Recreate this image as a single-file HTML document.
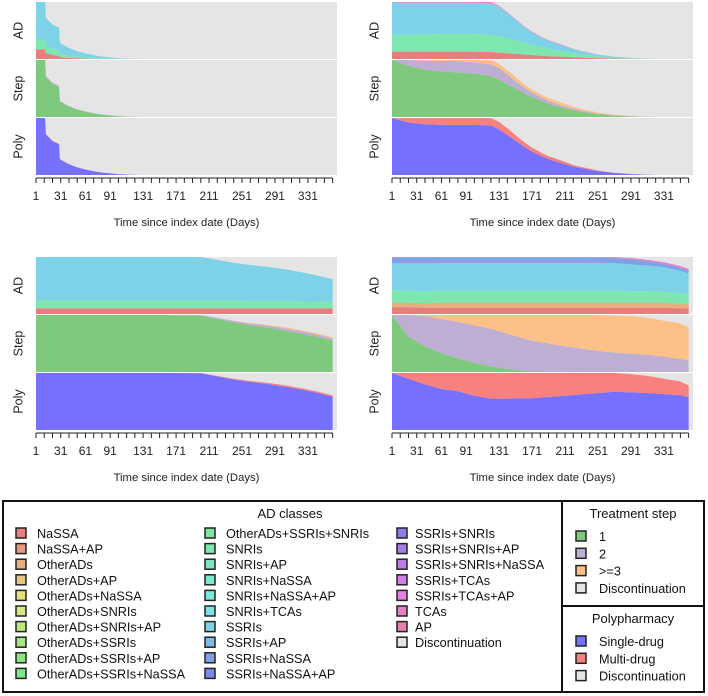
<!DOCTYPE html>
<html><head><meta charset="utf-8"><style>
html,body{margin:0;padding:0;background:#fff}
svg{display:block;font-family:"Liberation Sans",Arial,sans-serif}
</style></head><body>
<svg id="c" width="708" height="696" viewBox="0 0 708 696" xmlns="http://www.w3.org/2000/svg"></svg>
<script>
const classNames=["NaSSA","NaSSA+AP","OtherADs","OtherADs+AP","OtherADs+NaSSA","OtherADs+SNRIs","OtherADs+SNRIs+AP","OtherADs+SSRIs","OtherADs+SSRIs+AP","OtherADs+SSRIs+NaSSA","OtherADs+SSRIs+SNRIs","SNRIs","SNRIs+AP","SNRIs+NaSSA","SNRIs+NaSSA+AP","SNRIs+TCAs","SSRIs","SSRIs+AP","SSRIs+NaSSA","SSRIs+NaSSA+AP","SSRIs+SNRIs","SSRIs+SNRIs+AP","SSRIs+SNRIs+NaSSA","SSRIs+TCAs","SSRIs+TCAs+AP","TCAs","AP"];
const stepNames=["1","2",">=3"];
const polyNames=["Single-drug","Multi-drug"];
const xTickLabels=[1,31,61,91,131,171,211,251,291,331];

// Panel A (top-left)
const daysA=[1,12,13,20,21,29,30,40,50,60,70,80,90,100,110,120,130,361];
const adA_NaSSA=[.17,.17,.1,.08,.07,.06,.03,.02,.012,.008,.005,.003,.002,.001,0,0,0,0];
const adA_SNRIs=[.17,.17,.13,.11,.11,.1,.06,.04,.03,.02,.015,.01,.007,.004,.002,0,0,0];
const adA_SSRIs=[.66,.66,.49,.43,.42,.39,.19,.14,.098,.072,.05,.032,.021,.01,.005,.002,0,0];
const stepA_1=[1,1,.7,.6,.58,.53,.27,.19,.135,.097,.068,.044,.03,.015,.007,.002,0,0];
const stepA_2=[0,0,.02,.02,.02,.02,.01,.01,.005,.003,.002,.001,0,0,0,0,0,0];
const stepA_3=[0,0,0,0,0,0,0,0,0,0,0,0,0,0,0,0,0,0];
const polyA_1=[1,1,.71,.61,.59,.54,.275,.195,.138,.099,.069,.045,.03,.015,.007,.002,0,0];
const polyA_2=[0,0,.01,.01,.01,.01,.005,.005,.002,.001,.001,0,0,0,0,0,0,0];

// Panel B (top-right)
const daysB=[1,21,41,61,81,101,121,131,141,151,161,171,181,191,201,211,221,231,241,251,261,271,281,291,301,311,321,361];
const adB_NaSSA=[.13,.13,.13,.13,.13,.13,.12,.11,.1,.09,.08,.07,.06,.05,.045,.04,.03,.025,.02,.015,.01,.008,.005,.003,.002,.001,0,0];
const adB_SNRIs=[.29,.3,.3,.31,.31,.31,.3,.29,.27,.24,.21,.18,.16,.13,.11,.09,.075,.06,.045,.035,.025,.017,.013,.009,.005,.002,0,0];
const adB_SSRIs=[.57,.56,.56,.55,.55,.55,.56,.51,.44,.36,.28,.22,.17,.14,.115,.09,.07,.05,.04,.028,.022,.013,.01,.007,.003,.002,0,0];
const adB_TCAs=[.01,.01,.01,.01,.01,.01,.02,.02,.01,.01,.01,.01,.01,.01,.01,.01,.005,.005,.005,.002,.003,.002,.002,.001,0,0,0,0];
const stepB_1=[1,.9,.83,.8,.78,.76,.72,.66,.58,.5,.42,.35,.29,.23,.19,.15,.12,.09,.07,.05,.035,.025,.018,.012,.006,.002,0,0];
const stepB_2=[0,.1,.16,.19,.2,.2,.2,.2,.17,.13,.1,.08,.06,.05,.04,.03,.025,.02,.015,.01,.008,.005,.004,.002,.002,.001,0,0];
const stepB_3=[0,0,.01,.01,.02,.04,.08,.07,.07,.07,.06,.05,.05,.05,.05,.05,.035,.03,.025,.02,.017,.01,.008,.006,.002,.002,0,0];
const polyB_1=[1,.92,.89,.88,.88,.88,.87,.8,.7,.6,.5,.41,.34,.28,.23,.19,.15,.12,.09,.07,.05,.035,.026,.017,.008,.004,0,0];
const polyB_2=[0,.08,.11,.12,.12,.12,.13,.13,.12,.1,.08,.07,.06,.05,.05,.04,.025,.02,.02,.01,.01,.005,.004,.003,.002,.001,0,0];

// Panel C (bottom-left)
const daysC=[1,41,81,121,161,201,221,241,261,281,301,321,341,361];
const adC_NaSSA=[.1,.1,.1,.1,.1,.1,.1,.1,.1,.1,.1,.1,.1,.1];
const adC_SNRIs=[.14,.14,.14,.14,.14,.14,.14,.14,.13,.13,.13,.12,.12,.11];
const adC_SSRIs=[.76,.76,.76,.76,.76,.76,.71,.66,.63,.6,.56,.52,.46,.4];
const stepC_1=[1,1,1,1,1,.99,.93,.87,.82,.78,.73,.68,.62,.55];
const stepC_2=[0,0,0,0,0,.01,.02,.025,.03,.035,.04,.04,.04,.04];
const stepC_3=[0,0,0,0,0,0,0,.005,.01,.015,.02,.02,.02,.02];
const polyC_1=[1,1,1,1,1,.995,.94,.885,.845,.81,.765,.715,.655,.585];
const polyC_2=[0,0,0,0,0,.005,.01,.015,.015,.02,.025,.025,.025,.025];

// Panel D (bottom-right)
const daysD=[1,21,41,61,81,101,121,141,171,211,251,271,291,311,331,351,361];
const adD_NaSSA=[.12,.12,.11,.11,.11,.11,.11,.11,.11,.11,.11,.11,.11,.11,.11,.1,.1];
const adD_Other=[.08,.08,.08,.09,.09,.09,.09,.09,.09,.09,.09,.09,.09,.09,.09,.08,.08];
const adD_SNRIs=[.22,.21,.21,.21,.21,.21,.21,.21,.21,.21,.21,.21,.2,.2,.19,.18,.17];
const adD_SSRIs=[.47,.48,.49,.49,.49,.49,.49,.49,.49,.49,.49,.48,.47,.45,.43,.4,.36];
const adD_SSRIsNaSSA=[.1,.1,.1,.09,.09,.09,.09,.09,.09,.09,.09,.09,.09,.08,.06,.05,.05];
const adD_TCAs=[.01,.01,.01,.01,.01,.01,.01,.01,.01,.01,.01,.02,.02,.02,.03,.03,.03];
const stepD_1=[1,.62,.45,.33,.24,.16,.1,.05,.01,0,0,0,0,0,0,0,0];
const stepD_2=[0,.38,.53,.6,.64,.66,.66,.62,.54,.45,.37,.34,.32,.3,.27,.23,.2];
const stepD_3=[0,0,.02,.07,.12,.18,.24,.33,.45,.55,.63,.65,.66,.65,.63,.62,.58];
const polyD_1=[1,.9,.8,.72,.68,.6,.55,.55,.56,.6,.65,.67,.66,.65,.63,.61,.58];
const polyD_2=[0,.1,.2,.28,.32,.4,.45,.45,.44,.4,.35,.33,.32,.3,.27,.24,.2];

const svg=document.getElementById('c');
const NS="http://www.w3.org/2000/svg";
function mk(tag,attrs,parent){const e=document.createElementNS(NS,tag);for(const k in attrs)e.setAttribute(k,attrs[k]);(parent||svg).appendChild(e);return e;}
function classColor(i){
  let h;
  if(i<=10)h=i*14; else if(i<=16)h=140+(i-10)*(52/6); else h=192+(i-16)*(138/10);
  return `hsl(${h.toFixed(1)},68%,70%)`;
}
const stepColors=["#7fc97f","#beaed4","#fdc086"];
const polyColors=["#7570ff","#f8807f"];

function drawPanel(name,px,py,days,strips){
  const pw=301, sh=57, gap=1;
  const x=d=>px+(d-1)*0.824;
  const g=mk('g',{});
  
  
  strips.forEach((st,si)=>{
    const y0=py+si*(sh+gap);
    const bg=mk('rect',{x:px,y:y0,width:pw,height:sh,fill:'#e5e5e5'},g);
    
    
    const y=v=>y0+sh-v*sh;
    let cum=days.map(()=>0);
    st.series.forEach(s=>{
      const lo=cum.slice();const hi=cum.map((c,k)=>c+s.values[k]);
      let pts=days.map((d,k)=>x(d).toFixed(2)+','+y(hi[k]).toFixed(2));
      for(let k=days.length-1;k>=0;k--)pts.push(x(days[k]).toFixed(2)+','+y(lo[k]).toFixed(2));
      const p=mk('polygon',{points:pts.join(' '),fill:s.color},g);
      
      
      cum=hi;
    });
    const t=mk('text',{x:0,y:0,transform:`translate(${px-17},${y0+sh/2}) rotate(-90)`,'text-anchor':'middle','font-size':12.5,fill:'#222','dominant-baseline':'middle'},g);
    t.textContent=st.label;
    
    
  });
  const ay=py+3*sh+2*gap+3;
  const ax=mk('line',{x1:x(1),x2:x(361),y1:ay,y2:ay,stroke:'#222','stroke-width':1},g);
  
  
  for(let d=1;d<=361;d+=10){
    const tk=mk('line',{x1:x(d),x2:x(d),y1:ay,y2:ay+5,stroke:'#222','stroke-width':1},g);
    
    
  }
  xTickLabels.forEach(d=>{
    const t=mk('text',{x:x(d),y:ay+22,'text-anchor':'middle','font-size':12,fill:'#222'},g);
    t.textContent=d;
    
    
  });
  const tt=mk('text',{x:px+pw/2,y:ay+48,'text-anchor':'middle','font-size':11.3,fill:'#222'},g);
  tt.textContent='Time since index date (Days)';
  
  
}
const C=n=>classColor(classNames.indexOf(n));
function stepStrip(a,b,c){return {label:'Step',series:[{name:'step-1',values:a,color:stepColors[0]},{name:'step-2',values:b,color:stepColors[1]},{name:'step-3',values:c,color:stepColors[2]}]};}
function polyStrip(a,b){return {label:'Poly',series:[{name:'single-drug',values:a,color:polyColors[0]},{name:'multi-drug',values:b,color:polyColors[1]}]};}

drawPanel('panel-top-left',36,2,daysA,[
 {label:'AD',series:[{name:'NaSSA',values:adA_NaSSA,color:C('NaSSA')},{name:'SNRIs',values:adA_SNRIs,color:C('SNRIs')},{name:'SSRIs',values:adA_SSRIs,color:C('SSRIs')}]},
 stepStrip(stepA_1,stepA_2,stepA_3),polyStrip(polyA_1,polyA_2)]);
drawPanel('panel-top-right',392,2,daysB,[
 {label:'AD',series:[{name:'NaSSA',values:adB_NaSSA,color:C('NaSSA')},{name:'SNRIs',values:adB_SNRIs,color:C('SNRIs')},{name:'SSRIs',values:adB_SSRIs,color:C('SSRIs')},{name:'TCAs',values:adB_TCAs,color:C('TCAs')}]},
 stepStrip(stepB_1,stepB_2,stepB_3),polyStrip(polyB_1,polyB_2)]);
drawPanel('panel-bottom-left',36,257,daysC,[
 {label:'AD',series:[{name:'NaSSA',values:adC_NaSSA,color:C('NaSSA')},{name:'SNRIs',values:adC_SNRIs,color:C('SNRIs')},{name:'SSRIs',values:adC_SSRIs,color:C('SSRIs')}]},
 stepStrip(stepC_1,stepC_2,stepC_3),polyStrip(polyC_1,polyC_2)]);
drawPanel('panel-bottom-right',392,257,daysD,[
 {label:'AD',series:[{name:'NaSSA',values:adD_NaSSA,color:C('NaSSA')},{name:'OtherADs',values:adD_Other,color:C('OtherADs')},{name:'SNRIs',values:adD_SNRIs,color:C('SNRIs')},{name:'SSRIs',values:adD_SSRIs,color:C('SSRIs')},{name:'SSRIs+NaSSA',values:adD_SSRIsNaSSA,color:C('SSRIs+NaSSA')},{name:'TCAs',values:adD_TCAs,color:C('TCAs')}]},
 stepStrip(stepD_1,stepD_2,stepD_3),polyStrip(polyD_1,polyD_2)]);

// Legend
const lg=mk('g',{});


function box(x,y,w,h,n){const r=mk('rect',{x,y,width:w,height:h,fill:'none',stroke:'#111','stroke-width':2},lg);}
box(3,501,559,191,'ad-classes-legend-box');
box(562,501,142,105,'treatment-step-legend-box');
box(562,606,142,86,'polypharmacy-legend-box');
function title(x,y,s,n){const t=mk('text',{x,y,'text-anchor':'middle','font-size':13,fill:'#111'},lg);t.textContent=s;}
function item(sx,tx,y,color,label){
  const r=mk('rect',{x:sx,y:y-5,width:10,height:10,fill:color,stroke:'#222','stroke-width':1.5},lg);
  
  
  const t=mk('text',{x:tx,y:y+5,'font-size':12.7,fill:'#111'},lg);
  t.textContent=label;
  
  
}
title(290,518,'AD classes','ad-classes-legend-title');
const allAD=classNames.map((n,i)=>[n,classColor(i)]).concat([['Discontinuation','#e5e5e5']]);
const cols=[[16,37],[205,226],[397,415]];
allAD.forEach((e,i)=>{const c=Math.floor(i/10),r=i%10;item(cols[c][0],cols[c][1],533+r*15.6,e[1],e[0]);});
title(633,518,'Treatment step','treatment-step-legend-title');
[[stepColors[0],'1'],[stepColors[1],'2'],[stepColors[2],'>=3'],['#e5e5e5','Discontinuation']].forEach((e,i)=>item(576,599,536+i*17.3,e[0],e[1]));
title(633,623,'Polypharmacy','polypharmacy-legend-title');
[[polyColors[0],'Single-drug'],[polyColors[1],'Multi-drug'],['#e5e5e5','Discontinuation']].forEach((e,i)=>item(576,599,641+i*17.3,e[0],e[1]));
</script>
</body></html>
